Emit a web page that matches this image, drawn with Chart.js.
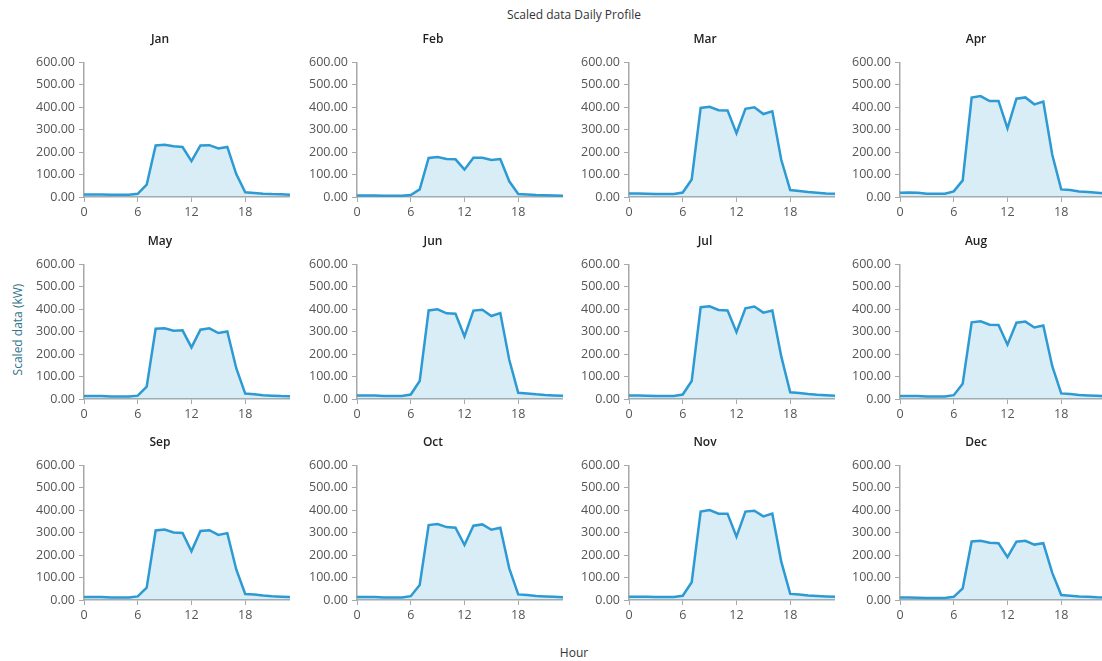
<!DOCTYPE html>
<html>
<head>
<meta charset="utf-8">
<script src="https://cdn.jsdelivr.net/npm/chart.js@4/dist/chart.umd.min.js"></script>
<style>
  html, body { margin: 0; padding: 0; background: #fff; overflow: hidden; }
  body { width: 1102px; height: 661px; position: relative; font-family: "Open Sans", sans-serif; }
  canvas { position: absolute; }
  .lbl { position: absolute; font-size: 12px; color: #333; text-align: center; white-space: nowrap; }
  #ytitle { transform: rotate(-90deg); color: #31738a; }
</style>
</head>
<body>
<div class="lbl" style="left:474px; top:6px; width:200px;">Scaled data Daily Profile</div>
<div class="lbl" id="ytitle" style="left:-33px; top:321px; width:100px;">Scaled data (kW)</div>
<div class="lbl" style="left:524px; top:644px; width:100px;">Hour</div>

<script>
// hour of day, 0..23
const hours = [0, 1, 2, 3, 4, 5, 6, 7, 8, 9, 10, 11, 12, 13, 14, 15, 16, 17, 18, 19, 20, 21, 22, 23];
const months = ['Jan', 'Feb', 'Mar', 'Apr', 'May', 'Jun', 'Jul', 'Aug', 'Sep', 'Oct', 'Nov', 'Dec'];

// scaled data (kW) per hour
const jan = [11, 11, 11, 10, 10, 10, 14, 55, 230, 233, 226, 223, 160, 230, 231, 216, 223, 102, 21, 18, 15, 13, 12, 10];
const feb = [7, 7, 7, 6, 6, 6, 9, 34, 174, 178, 169, 168, 122, 175, 175, 165, 169, 70, 13, 11, 9, 8, 7, 6];
const mar = [16, 16, 15, 13, 13, 13, 20, 78, 397, 402, 387, 386, 284, 393, 400, 370, 382, 166, 31, 27, 22, 19, 16, 14];
const apr = [19, 20, 19, 15, 15, 15, 25, 74, 443, 450, 428, 428, 306, 438, 444, 413, 425, 188, 34, 31, 25, 22, 19, 16];
const may = [13, 13, 13, 11, 11, 11, 15, 55, 313, 315, 304, 306, 230, 309, 315, 294, 301, 137, 24, 21, 17, 15, 13, 12];
const jun = [16, 16, 16, 13, 13, 13, 20, 80, 395, 400, 382, 380, 279, 394, 398, 370, 383, 175, 28, 25, 21, 18, 16, 14];
const jul = [16, 16, 15, 13, 13, 13, 20, 80, 409, 413, 397, 395, 298, 404, 412, 385, 394, 190, 30, 27, 22, 19, 17, 15];
const aug = [13, 13, 13, 11, 11, 11, 17, 68, 342, 346, 331, 330, 242, 340, 345, 319, 328, 146, 25, 22, 18, 16, 14, 12];
const sep = [13, 13, 13, 11, 11, 11, 16, 55, 310, 314, 301, 299, 217, 308, 311, 290, 298, 136, 27, 24, 20, 17, 15, 13];
const oct = [13, 13, 13, 11, 11, 11, 17, 67, 334, 339, 325, 322, 245, 331, 337, 313, 322, 141, 25, 22, 18, 16, 14, 12];
const nov = [15, 15, 15, 13, 13, 13, 19, 79, 394, 401, 385, 385, 282, 394, 398, 373, 385, 171, 27, 24, 20, 18, 16, 14];
const dec = [11, 11, 10, 9, 9, 9, 14, 52, 261, 264, 255, 253, 191, 260, 264, 247, 253, 121, 22, 19, 16, 14, 12, 11];
const series = [jan, feb, mar, apr, may, jun, jul, aug, sep, oct, nov, dec];

const yTicks = [0, 100, 200, 300, 400, 500, 600];
const xTicks = [0, 6, 12, 18];

// panel grid
const colAxisX = [84, 357, 629, 900];
const rowTopY = [62, 264, 465];
const plotW = 206;
const plotH = 135;
const yAxisW = 54;
const titleH = 30.4;   // 12px * 1.2 + 16 padding
const xAxisH = 28;

const axisColor = '#a8a8a8';
const lineColor = '#2e9ad3';
const fillColor = 'rgba(120, 190, 228, 0.28)';
const tickFont = { family: 'Open Sans', size: 12.5 };

series.forEach((values, i) => {
  const col = i % 4;
  const row = Math.floor(i / 4);
  const canvas = document.createElement('canvas');
  canvas.width = yAxisW + plotW;
  canvas.height = Math.round(titleH + plotH + xAxisH);
  canvas.style.left = (colAxisX[col] - yAxisW) + 'px';
  canvas.style.top = (rowTopY[row] - titleH) + 'px';
  document.body.appendChild(canvas);

  new Chart(canvas.getContext('2d'), {
    type: 'line',
    data: {
      datasets: [{
        data: values.map((v, k) => ({ x: hours[k], y: v })),
        borderColor: lineColor,
        borderWidth: 2.5,
        backgroundColor: fillColor,
        fill: 'origin',
        pointRadius: 0,
        tension: 0
      }]
    },
    options: {
      responsive: false,
      animation: false,
      layout: { padding: 0 },
      plugins: {
        legend: { display: false },
        tooltip: { enabled: false },
        title: {
          display: true,
          text: months[i],
          color: '#222',
          font: { family: 'Open Sans', size: 12, weight: '600' },
          padding: { top: 0, bottom: 16 }
        }
      },
      scales: {
        x: {
          type: 'linear',
          min: hours[0],
          max: hours[hours.length - 1],
          afterFit: s => { s.height = xAxisH; },
          afterBuildTicks: s => { s.ticks = xTicks.map(v => ({ value: v })); },
          ticks: { color: '#555', font: tickFont, padding: 3, maxRotation: 0 },
          border: { color: axisColor, width: 1.5 },
          grid: { drawOnChartArea: false, drawTicks: true, tickLength: 5, color: axisColor }
        },
        y: {
          min: 0,
          max: 600,
          afterFit: s => { s.width = yAxisW; },
          afterBuildTicks: s => { s.ticks = yTicks.map(v => ({ value: v })); },
          ticks: {
            color: '#555',
            font: tickFont,
            padding: 4,
            callback: v => v.toFixed(2)
          },
          border: { color: axisColor, width: 1.5 },
          grid: { drawOnChartArea: false, drawTicks: true, tickLength: 5, color: axisColor }
        }
      }
    }
  });
});
</script>
</body>
</html>
